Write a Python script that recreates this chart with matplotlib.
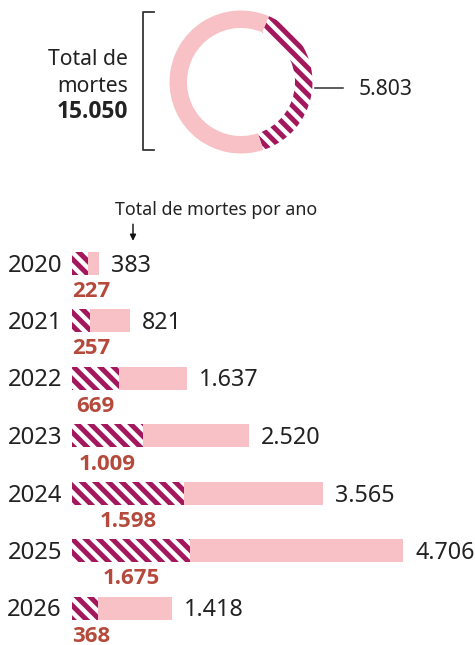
import matplotlib
matplotlib.use("Agg")
import matplotlib.pyplot as plt
from matplotlib.lines import Line2D

# ---- data ----
years = ["2020", "2021", "2022", "2023", "2024", "2025", "2026"]
totals = [383, 821, 1637, 2520, 3565, 4706, 1418]
hatched = [227, 257, 669, 1009, 1598, 1675, 368]
donut_title = ["Total de", "mortes"]
bar_title = "Total de mortes por ano"

DARK = "#a3175c"
PINK = "#f7c1c6"
RED = "#b54a3c"
TXT = "#222222"
BOLD = ["Open Sans", "Lato", "DejaVu Sans"]

def fmt(v):
    return f"{v:,}".replace(",", ".")

plt.rcParams["font.family"] = ["Noto Sans", "DejaVu Sans"]
plt.rcParams["hatch.linewidth"] = 4.5

DPI = 80
W, H = 475, 645
fig = plt.figure(figsize=(W / DPI, H / DPI), dpi=DPI)

# overlay axes in pixel coords for annotations
ov = fig.add_axes([0, 0, 1, 1])
ov.set_xlim(0, W)
ov.set_ylim(H, 0)
ov.axis("off")

# ---- donut ----
total_all = sum(totals)
killed_all = sum(hatched)
cx, cy, R = 241, 82, 71.5
box = 80
ad = fig.add_axes([(cx - box) / W, (H - cy - box) / H, 2 * box / W, 2 * box / H])
wedges, _ = ad.pie([killed_all, total_all - killed_all], radius=1,
                   startangle=67, counterclock=False,
                   colors=["white", PINK],
                   wedgeprops=dict(width=17.5 / R, linewidth=0))
wedges[0].set_edgecolor(DARK)
wedges[0].set_linewidth(0)
wedges[0].set_hatch("\\\\")
ad.set_xlim(-box / R, box / R)
ad.set_ylim(-box / R, box / R)
ad.set_aspect("equal")
ad.axis("off")

# bracket
ov.add_line(Line2D([154, 143, 143, 154], [12, 12, 150, 150], color="#333333", lw=1.6))
ov.text(128, 65, donut_title[0], ha="right", va="baseline", fontsize=19, color=TXT)
ov.text(128, 92, donut_title[1], ha="right", va="baseline", fontsize=19, color=TXT)
ov.text(128, 118, fmt(total_all), ha="right", va="baseline", fontsize=20.5,
        fontweight="bold", family=BOLD, color=TXT)
ov.add_line(Line2D([315, 343], [88, 88], color="#333333", lw=1.4))
ov.text(359, 95, fmt(killed_all), ha="left", va="baseline", fontsize=19, color=TXT)

# ---- bars ----
x0px, scale = 72, 331 / 4706
y0px, step = 263, 57.5
top_px, bot_px = 230, H
ax = fig.add_axes([x0px / W, 0, (W - x0px) / W, (H - top_px) / H])
ax.set_xlim(0, (W - x0px) / scale)
ax.set_ylim((bot_px - y0px) / step, (top_px - y0px) / step)
ax.axis("off")

pos = list(range(len(years)))
bh = 23 / step
ax.barh(pos, hatched, height=bh, color="white", edgecolor=DARK, linewidth=0, hatch="\\\\")
ax.barh(pos, [t - h for t, h in zip(totals, hatched)], left=hatched, height=bh,
        color=PINK, linewidth=0)

red_labels = []
for i, (y, t, h) in enumerate(zip(years, totals, hatched)):
    ax.annotate(y, xy=(0, i), xytext=(-10, -8.5), textcoords="offset pixels",
                ha="right", va="baseline", fontsize=21.5, color=TXT, annotation_clip=False)
    ax.annotate(fmt(t), xy=(t, i), xytext=(12, -8.5), textcoords="offset pixels",
                ha="left", va="baseline", fontsize=21, color=TXT, annotation_clip=False)
    a = ax.annotate(fmt(h), xy=(h / 2, i), xytext=(0, -34), textcoords="offset pixels",
                    ha="center", va="baseline", fontsize=20, fontweight="bold",
                    family=BOLD, color=RED, annotation_clip=False)
    red_labels.append(a)

fig.canvas.draw()
r = fig.canvas.get_renderer()
left0 = ax.transData.transform((0, 0))[0]
for a in red_labels:
    bb = a.get_window_extent(r)
    if bb.x0 < left0:
        a.xyann = (left0 - bb.x0, -34)

ov.text(115, 215, bar_title, ha="left", va="baseline", fontsize=16, color=TXT)
ov.annotate("", xy=(133, 243), xytext=(133, 222),
            arrowprops=dict(arrowstyle="-|>", color="#111111", lw=1.3, mutation_scale=11))

fig.savefig("out.png", dpi=DPI)
